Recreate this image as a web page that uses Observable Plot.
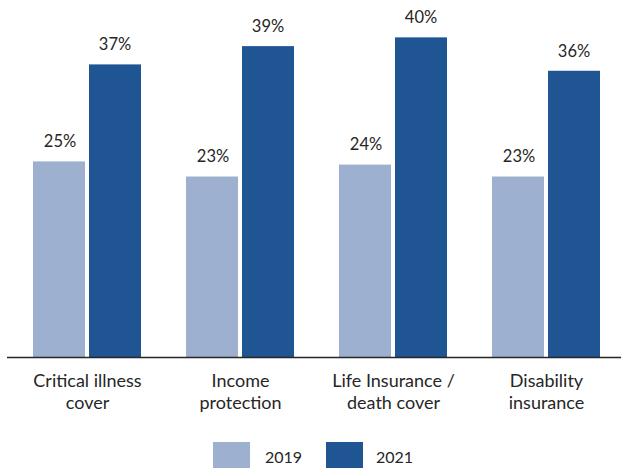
<!DOCTYPE html>
<html>
<head>
<meta charset="utf-8">
<script src="https://cdn.jsdelivr.net/npm/d3@7"></script>
<script src="https://cdn.jsdelivr.net/npm/@observablehq/plot@0.6"></script>
<style>
  html, body { margin: 0; padding: 0; background: #fff; }
  #wrap { position: relative; width: 622px; height: 468px; overflow: hidden; font-family: Lato, "Noto Sans", sans-serif; color: #262626; }
  #legend { position: absolute; left: 0; top: 430px; width: 622px; height: 38px; font-size: 16px; }
  .sw { position: absolute; top: 12px; width: 37px; height: 28px; }
  .lb { position: absolute; top: 18px; line-height: 18px; }
</style>
</head>
<body>
<div id="wrap"><div id="chart"></div><div id="legend"></div></div>
<script>
const categories = ["Critical illness\ncover", "Income\nprotection", "Life Insurance /\ndeath cover", "Disability\ninsurance"];
const years = ["2019", "2021"];
const values2019 = [24.6, 22.7, 24.2, 22.7];
const values2021 = [36.8, 39.1, 40.2, 36.0];
const colors = ["#9db0cf", "#1f5592"];

const data2019 = categories.map((c, i) => ({category: c, year: "2019", value: values2019[i]}));
const data2021 = categories.map((c, i) => ({category: c, year: "2021", value: values2021[i]}));
const fmt = d => Math.round(d.value) + "%";

const chart = Plot.plot({
  width: 622,
  height: 430,
  marginTop: 0,
  marginBottom: 73,
  marginLeft: 7,
  marginRight: 1,
  style: {fontFamily: "Lato, 'Noto Sans', sans-serif", fontSize: "16px", color: "#262626", background: "#fff"},
  x: {domain: categories, range: [31, 602], paddingInner: 0.292, paddingOuter: 0, axis: null},
  y: {domain: [0, 44.9], axis: null},
  marks: [
    Plot.barY(data2019, {x: "category", y: "value", fill: colors[0], insetRight: 56}),
    Plot.barY(data2021, {x: "category", y: "value", fill: colors[1], insetLeft: 56}),
    Plot.text(data2019, {x: "category", y: "value", text: fmt, dx: -27.5, dy: -20, fill: "#262626", fontSize: 16.5}),
    Plot.text(data2021, {x: "category", y: "value", text: fmt, dx: 27.5, dy: -20, fill: "#262626", fontSize: 16.5}),
    Plot.ruleY([0], {stroke: "#262626", strokeWidth: 1.3}),
    Plot.text(categories, {x: d => d, text: d => d, frameAnchor: "bottom", lineAnchor: "top", dy: 15, lineHeight: 1.17, fill: "#262626", fontSize: 18})
  ]
});
document.getElementById("chart").appendChild(chart);

const legend = document.getElementById("legend");
const pos = [{sw: 213, lb: 265}, {sw: 326, lb: 376}];
years.forEach((y, i) => {
  const s = document.createElement("div");
  s.className = "sw"; s.style.left = pos[i].sw + "px"; s.style.background = colors[i];
  legend.appendChild(s);
  const l = document.createElement("div");
  l.className = "lb"; l.style.left = pos[i].lb + "px"; l.textContent = y;
  legend.appendChild(l);
});
</script>
</body>
</html>
